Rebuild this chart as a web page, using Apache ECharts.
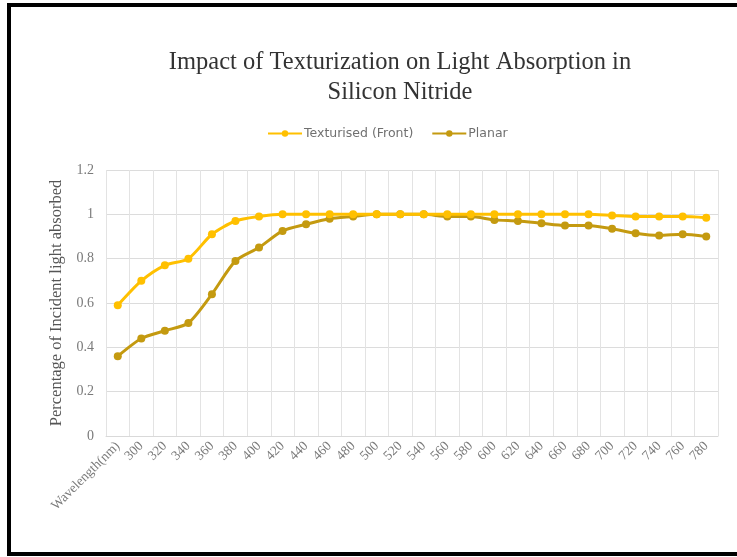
<!DOCTYPE html>
<html>
<head>
<meta charset="utf-8">
<style>
  html, body { margin: 0; padding: 0; background: #ffffff; }
  #chart { width: 737px; height: 557px; }
</style>
<script src="https://cdn.jsdelivr.net/npm/echarts@6/dist/echarts.min.js"></script>
</head>
<body>
<div id="chart"></div>
<script>
// Category labels along the x axis (first slot carries the axis caption)
const categories = ['Wavelength(nm)', '300', '320', '340', '360', '380', '400', '420', '440', '460', '480',
  '500', '520', '540', '560', '580', '600', '620', '640', '660', '680', '700', '720', '740', '760', '780'];

// Fraction of incident light absorbed
const texturised = [0.59, 0.70, 0.77, 0.80, 0.91, 0.97, 0.99, 1.00, 1.00, 1.00, 1.00, 1.00, 1.00,
  1.00, 1.00, 1.00, 1.00, 1.00, 1.00, 1.00, 1.00, 0.995, 0.99, 0.99, 0.99, 0.985];
const planar = [0.36, 0.44, 0.475, 0.51, 0.64, 0.79, 0.85, 0.925, 0.955, 0.98, 0.99, 1.00, 1.00,
  1.00, 0.99, 0.99, 0.975, 0.97, 0.96, 0.95, 0.95, 0.935, 0.915, 0.905, 0.91, 0.90];

const yTicks = { min: 0, max: 1.2, step: 0.2 };

const chart = echarts.init(document.getElementById('chart'), null, { renderer: 'canvas' });

const serif = '"Liberation Serif", "DejaVu Serif", serif';
const sans = '"DejaVu Sans", "Liberation Sans", sans-serif';

chart.setOption({
  backgroundColor: '#ffffff',
  animation: false,
  graphic: [{
    type: 'rect',
    shape: { x: 9, y: 5, width: 740, height: 549 },
    style: { fill: 'none', stroke: '#000000', lineWidth: 4 },
    silent: true
  }],
  title: {
    text: 'Impact of Texturization on Light Absorption in\nSilicon Nitride',
    left: 395,
    top: 43,
    textAlign: 'center',
    textStyle: {
      fontFamily: serif,
      fontSize: 24.5,
      fontWeight: 'normal',
      color: '#333333',
      lineHeight: 30
    }
  },
  legend: {
    top: 122,
    left: 262,
    itemWidth: 34,
    itemHeight: 8,
    itemGap: 18,
    textStyle: { fontFamily: sans, fontSize: 12.5, color: '#707070', padding: [0, 0, 0, -3] },
    data: ['Texturised (Front)', 'Planar']
  },
  grid: { left: 106, right: 19, top: 170, bottom: 121, containLabel: false },
  xAxis: {
    type: 'category',
    data: categories,
    boundaryGap: true,
    axisLine: { show: true, lineStyle: { color: '#d9d9d9', width: 1 } },
    axisTick: { show: false },
    splitLine: { show: true, lineStyle: { color: '#e3e3e3', width: 1 } },
    axisLabel: {
      interval: 0,
      rotate: 45,
      margin: 8,
      fontFamily: serif,
      fontSize: 13.5,
      color: '#7a7a7a'
    }
  },
  yAxis: {
    type: 'value',
    min: yTicks.min,
    max: yTicks.max,
    interval: yTicks.step,
    name: 'Percentage of Incident light absorbed',
    nameLocation: 'middle',
    nameGap: 38,
    nameRotate: 90,
    nameTextStyle: { fontFamily: serif, fontSize: 16.5, color: '#555555' },
    axisLine: { show: false },
    axisTick: { show: false },
    splitLine: { show: true, lineStyle: { color: '#dcdcdc', width: 1 } },
    axisLabel: {
      margin: 12,
      fontFamily: serif,
      fontSize: 14,
      color: '#7a7a7a',
      formatter: v => String(Math.round(v * 10) / 10)
    }
  },
  series: [
    {
      name: 'Texturised (Front)',
      type: 'line',
      data: texturised,
      smooth: 0.25,
      symbol: 'circle',
      symbolSize: 8,
      itemStyle: { color: '#FFC000' },
      lineStyle: { color: '#FFC000', width: 3 },
      z: 3
    },
    {
      name: 'Planar',
      type: 'line',
      data: planar,
      smooth: 0.25,
      symbol: 'circle',
      symbolSize: 8,
      itemStyle: { color: '#C49A10' },
      lineStyle: { color: '#C49A10', width: 3 },
      z: 2
    }
  ]
});
</script>
</body>
</html>
